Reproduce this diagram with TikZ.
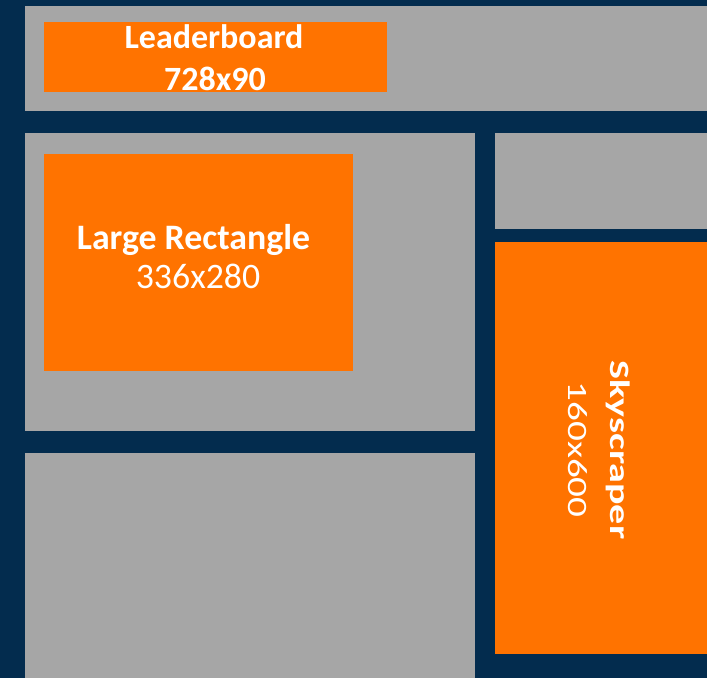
\documentclass[tikz,border=0pt]{standalone}
\usepackage{fontspec}
\setmainfont{Carlito}[Numbers=Lining]
\definecolor{navy}{HTML}{032C4E}
\definecolor{panel}{HTML}{A6A6A6}
\definecolor{adorange}{HTML}{FF7300}
\tikzset{
  panelbox/.style={fill=panel, draw=none},
  adbox/.style={fill=adorange, draw=none},
  lbl/.style={text=white, inner sep=0pt, anchor=base},
}
\begin{document}
\begin{tikzpicture}[x=1pt,y=-1pt]
\useasboundingbox (0,0) rectangle (707,678);
\fill[navy] (0,0) rectangle (707,678);
% gray panels
\fill[panelbox] (25,6) rectangle (707,110.5);
\fill[panelbox] (25,133) rectangle (475,431);
\fill[panelbox] (495,133) rectangle (707,228.7);
\fill[panelbox] (25,453) rectangle (475,678);
% orange ad boxes
\fill[adbox] (44,22) rectangle (387,91.7);
\fill[adbox] (44,154) rectangle (353,370.5);
\fill[adbox] (495,241.7) rectangle (707,654);
% labels
\node[lbl, font=\fontsize{34}{40}\selectfont\bfseries] (lb1) at (214,48) {Leaderboard};
\node[lbl, font=\fontsize{34}{40}\selectfont\bfseries] (lb2) at (215,90) {728x90};
\node[lbl, font=\fontsize{35.8}{42}\selectfont\bfseries] (lr1) at (193.5,249.3) {Large Rectangle};
\node[lbl, font=\fontsize{35.8}{42}\selectfont] (lr2) at (198,288) {336x280};
\node[lbl, rotate=-90, font=\fontsize{28}{33}\selectfont\bfseries] (sk1) at (610.5,450) {\scalebox{1.43}[1]{Skyscraper}};
\node[lbl, rotate=-90, font=\fontsize{28}{33}\selectfont] (sk2) at (568,449.5) {\scalebox{1.40}[1]{160x600}};
\end{tikzpicture}
\end{document}
